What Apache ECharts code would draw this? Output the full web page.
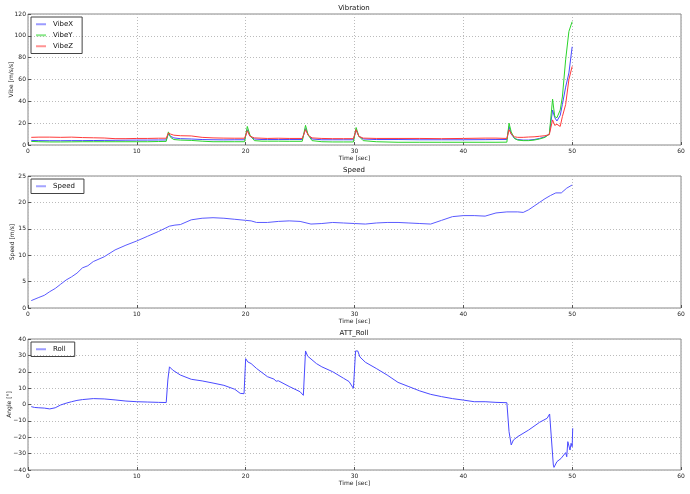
<!DOCTYPE html>
<html><head><meta charset="utf-8">
<script src="https://cdn.jsdelivr.net/npm/echarts@6/dist/echarts.min.js"></script>
<style>html,body{margin:0;padding:0;background:#fff}#c{width:690px;height:494px}</style>
</head><body><div id="c"></div>
<script>
// ---- data ----
const vibeT = [0.3,1,2,3,4,5,6,7,8,9,10,11,12,12.7,12.9,13.1,13.4,14,15,16,17,18,19,19.9,20.15,20.4,20.8,21.5,22,23,24,25.2,25.5,25.75,26.1,27,28,29,29.9,30.15,30.4,30.8,32,34,36,38,40,42,43,44.0,44.2,44.4,44.7,45,45.5,46,46.5,47,47.5,47.9,48.2,48.4,48.6,48.9,49.1,49.4,49.7,50.0];
const vibeX = [4.2,4,3.9,3.9,4,4,4.1,4.2,4.3,4.4,4.5,4.5,4.6,4.6,10,8,6.5,5.8,5.5,5,4.8,4.7,4.8,4.8,14,8,5.5,5,5,5,5,5,15,9,5.5,4.8,4.8,4.8,4.8,14,8,5.5,5,5,4.8,4.8,4.8,4.9,5,5,17,10,6,5,4.5,4.5,5,6,7.5,10,32,25,22,27,37,53,66,90];
const vibeY = [3.3,3,2.8,2.8,2.9,3,3,3,3,3,3,3,3.2,3.3,12,7,5,4.5,4.2,3.5,3,3,3,3,17,9,4,3.5,3.5,3.5,3.4,3.4,18,9,4,3,2.8,2.8,2.8,16,8,4,3,2.5,2.5,2.5,2.5,2.5,2.5,2.6,20,12,6,4.5,4,4,4.5,5.5,7,10,42,26,25,32,44,78,104,113];
const vibeZ = [7,7.2,7.2,7,7.2,6.8,6.6,6.4,5.8,5.8,6,6,6.2,6.2,11,10,9,8.5,8.3,7,6.5,6.3,6.2,6.2,13,8,6.5,6.2,6,6.2,6,6,14,9,6.5,6,5.8,5.8,5.8,14,8,6.3,6,6,6,5.8,6,6.3,6.3,6,14,10,7.5,7,7,7.3,7.5,8,8.5,9.5,23,18,19,17,26,37,60,72];

const speedT = [0.3,1,1.5,2,2.5,3,3.5,4,4.5,5,5.5,6,7,8,9,10,11,12,13,13.5,14,15,16,17,18,19,20,20.5,21,22,23,24,25,26,27,28,29,30,31,32,33,34,35,36,37,38,39,40,41,42,43,44,45,45.5,46,46.5,47,47.5,48,48.5,49,49.5,50];
const speedV = [1.4,2.0,2.4,3.1,3.7,4.5,5.3,5.9,6.6,7.6,8.0,8.8,9.7,11.0,11.9,12.7,13.6,14.5,15.5,15.7,15.8,16.7,17.0,17.1,17.0,16.8,16.6,16.5,16.2,16.2,16.4,16.5,16.4,15.9,16.0,16.2,16.1,16.0,15.9,16.1,16.2,16.2,16.1,16.0,15.9,16.6,17.3,17.5,17.5,17.4,18.0,18.2,18.2,18.1,18.6,19.3,20.0,20.7,21.3,21.8,21.8,22.7,23.3];

const rollT = [0.3,0.6,1,1.5,2,2.5,3,3.5,4,4.5,5,6,7,8,9,10,11,12,12.7,12.85,13.0,13.3,14,15,16,17,18,19,19.5,19.85,20.0,20.2,20.3,20.5,21,22,22.6,22.8,23,24,25,25.3,25.5,25.7,25.8,26.5,27,28,29,29.5,29.9,30.1,30.3,30.5,31,32,33,34,35,36,37,38,39,40,41,42,43,44.0,44.2,44.4,44.6,45,46,47,47.7,47.93,48.27,48.33,48.6,48.7,48.97,49.1,49.4,49.5,49.6,49.8,49.9,50.0,50.05];
const rollV = [-1.3,-1.8,-2,-2.2,-2.7,-2,-0.3,0.8,1.7,2.5,3,3.6,3.4,2.8,2.1,1.7,1.5,1.3,1.2,15,23,21,18,15.4,14.4,13.1,11.7,9.3,6.8,6.6,28,26,27,25,22,17,15.5,14.2,14.5,11,7.8,5.6,32.7,29.5,30.5,25,23,20,16,14,9.9,32.7,32.7,29,25.8,22,18,13.5,10.9,8.3,6.2,4.8,3.6,2.7,1.7,1.7,1.3,1.1,-16.6,-24.7,-21.7,-19.6,-15.6,-10.9,-8.4,-5.8,-37,-38.4,-34.9,-36,-33,-34,-29.4,-31.9,-22.7,-27.8,-23.7,-25.8,-14.5];

const xTicks = [0,10,20,30,40,50,60];
const titles = ['Vibration','Speed','ATT_Roll'];
const yNames = ['Vibe [m/s/s]','Speed [m/s]','Angle [°]'];
const xName = 'Time [sec]';

// ---- chart ----
const zip = (t, v) => t.map((x, i) => [x, v[i]]);
const FONT = 'DejaVu Sans';
const grids = [
  {left: 28, right: 9, top: 14, height: 131},
  {left: 28, right: 9, top: 176, height: 132},
  {left: 28, right: 9, top: 339, height: 131}
];
const yCfg = [
  {min: 0, max: 120, interval: 20, gap: 14},
  {min: 0, max: 25, interval: 5, gap: 13},
  {min: -40, max: 40, interval: 10, gap: 16}
];
const fmt = v => String(v).replace('-', '\u2212');
const xAxis = grids.map((g, i) => ({
  type: 'value', gridIndex: i, min: xTicks[0], max: xTicks[xTicks.length-1], interval: 10,
  name: xName, nameLocation: 'middle', nameGap: 10, nameMoveOverlap: false,
  nameTextStyle: {fontFamily: FONT, fontSize: 6, color: '#222'},
  axisLine: {show: false, onZero: false}, axisTick: {inside: true, length: 3, lineStyle: {color: '#555'}},
  axisLabel: {fontFamily: FONT, fontSize: 6, color: '#222', margin: 3, formatter: fmt},
  splitLine: {show: true, lineStyle: {type: [1, 2], color: '#bbb'}}
}));
const yAxis = yCfg.map((c, i) => ({
  type: 'value', gridIndex: i, min: c.min, max: c.max, interval: c.interval,
  name: yNames[i], nameLocation: 'middle', nameGap: c.gap, nameRotate: 90, nameMoveOverlap: false,
  nameTextStyle: {fontFamily: FONT, fontSize: 6, color: '#222'},
  axisLine: {show: false, onZero: false}, axisTick: {inside: true, length: 3, lineStyle: {color: '#555'}},
  axisLabel: {fontFamily: FONT, fontSize: 6, color: '#222', margin: 2, formatter: fmt},
  splitLine: {show: true, lineStyle: {type: [1, 2], color: '#bbb'}}
}));
const line = (name, data, color, gi) => ({
  name, type: 'line', xAxisIndex: gi, yAxisIndex: gi, data, showSymbol: false, symbol: 'none',
  lineStyle: {width: 1, color}, itemStyle: {color}, animation: false
});
const blue = '#4848ff', green = '#2ad42a', red = '#ff3a3a';
const series = [
  line('VibeX', zip(vibeT, vibeX), blue, 0),
  line('VibeY', zip(vibeT, vibeY), green, 0),
  line('VibeZ', zip(vibeT, vibeZ), red, 0),
  line('Speed', zip(speedT, speedV), '#5a5aff', 1),
  line('Roll', zip(rollT, rollV), '#4a4aff', 2)
];
const legendBase = (names, top) => ({
  data: names, left: 31, top, orient: 'vertical', itemGap: 2.5, itemWidth: 10, itemHeight: 2, icon: 'rect',
  itemStyle: {opacity: 0.55},
  borderColor: '#444', borderWidth: 1, borderRadius: 0, padding: [3, 9, 3, 5],
  textStyle: {fontFamily: FONT, fontSize: 7, color: '#111', padding: [0, 0, 0, 2], lineHeight: 8.5, height: 8.5},
  selectedMode: false
});
const option = {
  animation: false,
  title: titles.map((t, i) => ({
    text: t, left: 354, top: [5, 167, 330][i], textAlign: 'center', padding: 0,
    textStyle: {fontFamily: FONT, fontSize: 7, fontWeight: 'normal', color: '#111'}
  })),
  grid: grids.map(g => Object.assign({show: true, borderColor: '#888', borderWidth: 1, backgroundColor: '#fff', containLabel: false, outerBoundsMode: 'none'}, g)),
  legend: [
    legendBase(['VibeX','VibeY','VibeZ'], 17),
    legendBase(['Speed'], 179),
    legendBase(['Roll'], 342)
  ],
  xAxis, yAxis, series
};
const chart = echarts.init(document.getElementById('c'), null, {renderer: 'canvas'});
chart.setOption(option);
</script></body></html>
